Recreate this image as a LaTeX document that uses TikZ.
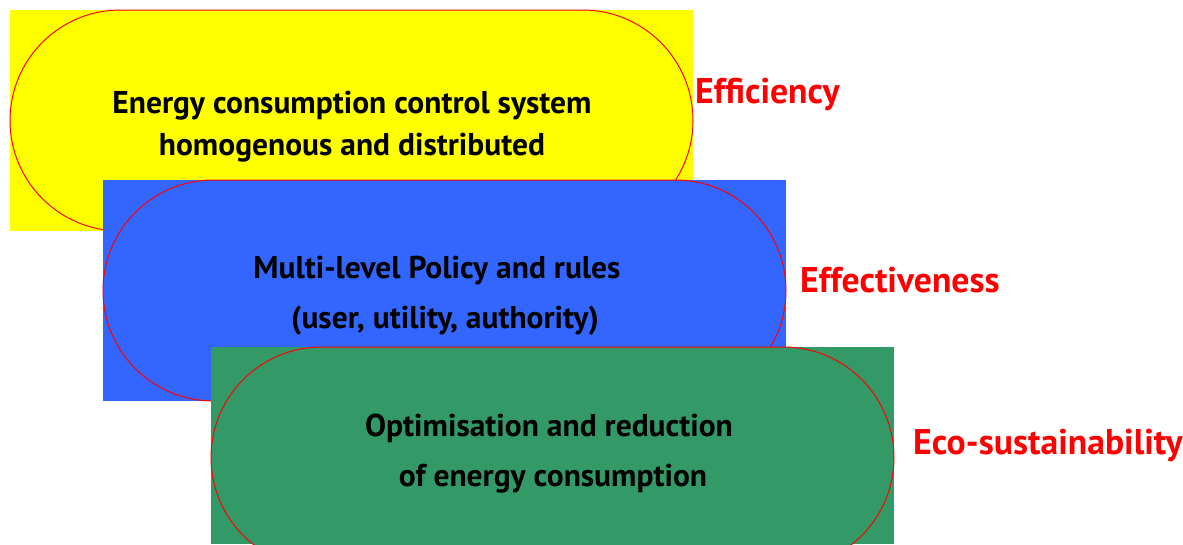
\documentclass[tikz,border=0pt]{standalone}
\usepackage{fontspec}
\setmainfont{PT Sans}
\newfontfamily\bodyfont{PT Sans Bold}
\newfontfamily\labfont{PT Sans Bold}
\usetikzlibrary{shapes.misc}
\definecolor{cyel}{HTML}{FFFF00}
\definecolor{cblu}{HTML}{3366FF}
\definecolor{cgrn}{HTML}{339966}
\definecolor{cred}{HTML}{FF0000}
\tikzset{
  panel/.style={fill=#1, draw=none, minimum width=683pt, inner sep=0pt, outer sep=0pt},
  stadium/.style={rounded rectangle, fill=#1, draw=cred, line width=1pt, minimum width=683pt, minimum height=221pt, inner sep=0pt, outer sep=0pt},
  txt/.style={font=\bodyfont\fontsize{31.5}{36}\selectfont, text=black, anchor=base, inner sep=0pt},
  lab/.style={font=\labfont\fontsize{35.7}{40}\selectfont, text=cred, anchor=base west, inner sep=0pt}
}
\begin{document}
\begin{tikzpicture}[x=1pt,y=-1pt]
\useasboundingbox (0,0) rectangle (1183,544);
\clip (0,0) rectangle (1183,544);
% yellow
\node[panel=cyel, minimum height=221pt] (ry) at (351.5,120.5) {};
\node[stadium=cyel] (sy) at (351.5,120.5) {};
\node[txt] (ty1) at (352,113) {Energy consumption control system};
\node[txt] (ty2) at (352,155) {homogenous and distributed};
% blue
\node[panel=cblu, minimum height=221pt] (rb) at (444.5,290.5) {};
\node[stadium=cblu] (sb) at (444.5,290.5) {};
\node[txt] (tb1) at (437,278) {Multi-level Policy and rules};
\node[txt] (tb2) at (445,328) {(user, utility, authority)};
% green
\node[panel=cgrn, minimum height=197pt] (rg) at (552.5,445.5) {};
\node[stadium=cgrn] (sg) at (552.5,457.5) {};
\node[txt] (tg1) at (549,436) {Optimisation and reduction};
\node[txt] (tg2) at (553,486) {of energy consumption};
% labels
\node[lab] (l1) at (695,103) {Efficiency};
\node[lab] (l2) at (800,292) {Effectiveness};
\node[lab] (l3) at (913,454) {Eco-sustainability};
\end{tikzpicture}
\end{document}
